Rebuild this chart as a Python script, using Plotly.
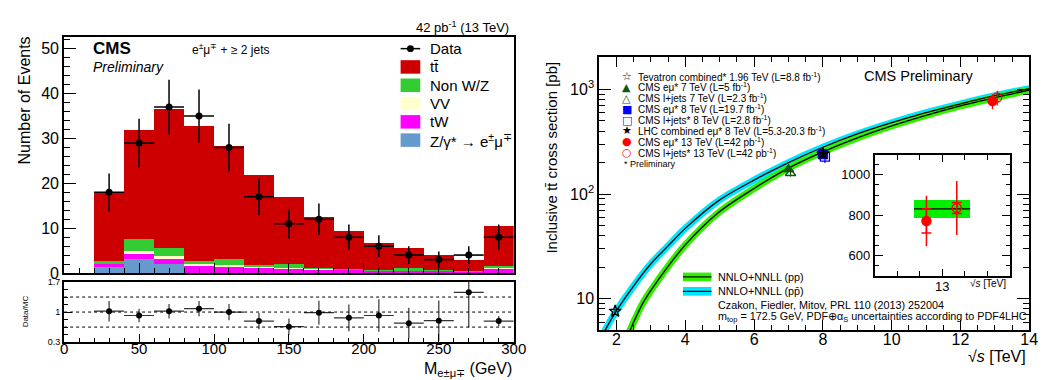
import plotly.graph_objects as go

W, H = 1048, 380
def PX(x): return x / W
def PY(y): return 1 - y / H

FONT = "Liberation Sans"

# ---------------- left panel : e-mu invariant mass ----------------
mass_bins = [30, 50, 70, 90, 110, 130, 150, 170, 190, 210, 230, 250, 270, 290]
bin_width = 20
ttbar   = [15.5, 24.3, 30.9, 30.1, 25.2, 19.9, 15.1, 11.3, 8.5, 6.0, 4.6, 3.4, 2.5, 8.8]
non_wz  = [0.4, 2.7, 1.9, 0.7, 1.3, 0.4, 0.8, 0.15, 0.1, 0.05, 0.4, 0.1, 0.1, 0.5]
diboson = [0.2, 0.4, 0.4, 0.25, 0.25, 0.2, 0.1, 0.08, 0.05, 0.05, 0.1, 0.05, 0.05, 0.1]
tw      = [0.7, 1.2, 1.4, 1.6, 1.5, 1.2, 1.0, 0.85, 0.75, 0.6, 0.55, 0.45, 0.35, 1.0]
dy      = [1.3, 3.2, 1.9, 0.1, 0.05, 0.05, 0.02, 0.02, 0.0, 0.0, 0.0, 0.0, 0.0, 0.0]
data_counts = [18, 29, 37, 35, 28, 17, 11, 12, 8, 6, 4, 3, 4, 8]
data_err    = [4.2, 5.4, 6.1, 5.9, 5.3, 4.1, 3.3, 3.5, 2.8, 2.4, 2.0, 1.8, 2.0, 2.8]
ratio        = [1.02, 0.92, 1.02, 1.08, 1.0, 0.79, 0.66, 0.985, 0.865, 0.92, 0.74, 0.80, 1.46, 0.79]
ratio_err_up = [0.24, 0.16, 0.17, 0.18, 0.19, 0.19, 0.19, 0.28, 0.31, 0.38, 0.36, 0.47, 0.45, 0.12]
ratio_err_dn = [0.24, 0.16, 0.17, 0.18, 0.19, 0.19, 0.19, 0.28, 0.31, 0.38, 0.36, 0.47, 0.82, 0.12]

# ---------------- right panel : cross section vs sqrt(s) ----------------
sqrt_s_pp = [2.3, 2.5, 2.75, 3.0, 3.5, 4.0, 5.0, 6.0, 7.0, 8.0, 9.0, 10.0, 11.0, 12.0, 13.0, 14.0]
xsec_pp   = [4.2, 6.0, 8.9, 12.0, 20.4, 32.7, 68, 113, 177, 253, 344, 448, 565, 695, 832, 985]
sqrt_s_ppbar = [1.5, 1.75, 2.0, 2.5, 3.0, 3.5, 4.0, 5.0, 6.0, 7.0, 8.0, 9.0, 10.0, 11.0, 12.0, 13.0, 14.0]
xsec_ppbar   = [3.9, 5.6, 7.7, 13.3, 21.6, 32, 47, 88, 136, 200, 280, 375, 480, 598, 728, 869, 1016]

meas_labels = ["Tevatron combined* 1.96 TeV (L=8.8 fb<sup>-1</sup>)",
               "CMS eμ* 7 TeV (L=5 fb<sup>-1</sup>)",
               "CMS l+jets 7 TeV (L=2.3 fb<sup>-1</sup>)",
               "CMS eμ* 8 TeV (L=19.7 fb<sup>-1</sup>)",
               "CMS l+jets* 8 TeV (L=2.8 fb<sup>-1</sup>)",
               "LHC combined eμ* 8 TeV (L=5.3-20.3 fb<sup>-1</sup>)",
               "CMS eμ* 13 TeV (L=42 pb<sup>-1</sup>)",
               "CMS l+jets* 13 TeV (L=42 pb<sup>-1</sup>)"]
meas_sqrt_s = [1.96, 7.0, 7.06, 8.0, 8.06, 8.0, 12.93, 13.07]
meas_xsec   = [7.6, 172, 158, 241, 228, 242, 772, 836]
meas_err    = [0.4, 7, 11, 9, 30, 8.5, 125, 133]

# inset (13 TeV zoom)
inset_pos   = [12.86, 13.13]
inset_xsec  = [772, 836]
inset_stat  = [60, 27]
inset_total = [125, 133]
theory_13, theory_13_up, theory_13_dn = 832, 46, 44

# ---------------- styles ----------------
C_TT, C_NWZ, C_VV, C_TW, C_DY = "#cc0000", "#33cc33", "#ffffcc", "#ff00ff", "#6699cc"
C_GREEN, C_CYAN = "#33ee00", "#00e5ff"
meas_style = [("star-open", "black", "☆"), ("triangle-up", "#0b5a0b", "▲"),
              ("triangle-up-open", "#0b5a0b", "△"), ("square", "#0000ff", "■"),
              ("square-open", "#0000ff", "□"), ("star", "black", "★"),
              ("circle", "#ff0000", "●"), ("circle-open", "#ff0000", "○")]

fig = go.Figure()

# stacked histogram
for vals, col, nm in [(dy, C_DY, "DY"), (tw, C_TW, "tW"), (diboson, C_VV, "VV"),
                      (non_wz, C_NWZ, "NonWZ"), (ttbar, C_TT, "tt")]:
    fig.add_trace(go.Bar(x=mass_bins, y=vals, width=bin_width, marker=dict(color=col, line=dict(width=0)),
                         name=nm, xaxis="x", yaxis="y", showlegend=False))
fig.add_trace(go.Scatter(x=mass_bins, y=data_counts, mode="markers", xaxis="x", yaxis="y",
                         marker=dict(color="black", size=7),
                         error_y=dict(type="data", array=data_err, color="black", thickness=1.5, width=0),
                         error_x=dict(type="constant", value=bin_width / 2, color="black", thickness=1.5, width=0),
                         showlegend=False))
# ratio
fig.add_trace(go.Scatter(x=mass_bins, y=ratio, mode="markers", xaxis="x2", yaxis="y2",
                         marker=dict(color="black", size=6),
                         error_y=dict(type="data", symmetric=False, array=ratio_err_up, arrayminus=ratio_err_dn,
                                      color="#333333", thickness=1.2, width=0),
                         error_x=dict(type="constant", value=bin_width / 2, color="#333333", thickness=1.2, width=0),
                         showlegend=False))

# theory curves
for xs, ys, col in [(sqrt_s_ppbar, xsec_ppbar, C_CYAN), (sqrt_s_pp, xsec_pp, C_GREEN)]:
    fig.add_trace(go.Scatter(x=xs, y=ys, mode="lines", line=dict(color=col, width=7, shape="spline", smoothing=0.8),
                             xaxis="x3", yaxis="y3", showlegend=False))
for xs, ys in [(sqrt_s_ppbar, xsec_ppbar), (sqrt_s_pp, xsec_pp)]:
    fig.add_trace(go.Scatter(x=xs, y=ys, mode="lines", line=dict(color="black", width=1.3, shape="spline", smoothing=0.8),
                             xaxis="x3", yaxis="y3", showlegend=False))
# measurements
for i in range(len(meas_xsec)):
    sym, col, _ = meas_style[i]
    fig.add_trace(go.Scatter(x=[meas_sqrt_s[i]], y=[meas_xsec[i]], mode="markers", xaxis="x3", yaxis="y3",
                             marker=dict(symbol=sym, color=col, size=9, line=dict(color=col, width=1.3)),
                             error_y=dict(type="data", array=[meas_err[i]], color=col, thickness=1.2, width=0),
                             showlegend=False))

# inset
fig.add_trace(go.Bar(x=[13.0], y=[theory_13_up + theory_13_dn], base=[theory_13 - theory_13_dn], width=0.5,
                     marker=dict(color="#00ee00", line=dict(width=0)), xaxis="x4", yaxis="y4", showlegend=False))
fig.add_trace(go.Scatter(x=[12.75, 13.25], y=[theory_13, theory_13], mode="lines", line=dict(color="black", width=1.2),
                         xaxis="x4", yaxis="y4", showlegend=False))
for i, sym in enumerate(["circle", "circle-open"]):
    fig.add_trace(go.Scatter(x=[inset_pos[i]], y=[inset_xsec[i]], mode="markers", xaxis="x4", yaxis="y4",
                             marker=dict(symbol=sym, color="#ff0000", size=9, line=dict(color="#ff0000", width=1.5)),
                             error_y=dict(type="data", array=[inset_total[i]], color="#ff0000", thickness=1.5, width=0),
                             showlegend=False))
    fig.add_trace(go.Scatter(x=[inset_pos[i]], y=[inset_xsec[i]], mode="markers", xaxis="x4", yaxis="y4",
                             marker=dict(size=1, color="rgba(0,0,0,0)"),
                             error_y=dict(type="data", array=[inset_stat[i]], color="#ff0000", thickness=1.5, width=5),
                             showlegend=False))

axis_common = dict(showline=True, linecolor="black", linewidth=2, mirror=True, ticks="inside",
                   tickcolor="black", showgrid=False, zeroline=False, tickfont=dict(family=FONT, size=16, color="black"))

def ax(**kw):
    d = dict(axis_common)
    d.update(kw)
    return d

fig.update_layout(
    width=W, height=H, margin=dict(l=0, r=0, t=0, b=0),
    paper_bgcolor="white", plot_bgcolor="white", barmode="stack", bargap=0,
    font=dict(family=FONT, color="black"),
    xaxis=ax(domain=[PX(53), PX(510)], anchor="y", range=[0, 300], dtick=50, ticklen=10, showticklabels=False,
             minor=dict(dtick=10, ticklen=5, ticks="inside", tickcolor="black")),
    yaxis=ax(domain=[PY(270), PY(25)], anchor="x", range=[0, 52.6], dtick=10, ticklen=12,
             minor=dict(dtick=2, ticklen=6, ticks="inside", tickcolor="black")),
    xaxis2=ax(domain=[PX(53), PX(510)], anchor="y2", range=[0, 300], dtick=50, ticklen=8, ticklabelstandoff=-8,
              tickfont=dict(family=FONT, size=15, color="black"),
              minor=dict(dtick=10, ticklen=4, ticks="inside", tickcolor="black")),
    yaxis2=ax(domain=[PY(341.7), PY(279.3)], anchor="x2", range=[0.3, 1.7], tickvals=[0.3, 1, 1.7],
              ticktext=["0.3", "1", "1.7"], ticklen=8, tickfont=dict(family=FONT, size=9, color="black"),
              minor=dict(tick0=0.3, dtick=0.175, ticklen=4, ticks="inside", tickcolor="black")),
    xaxis3=ax(domain=[PX(597), PX(1034)], anchor="y3", range=[1.5, 14], tick0=0, dtick=2, ticklen=10, mirror="ticks",
              ticklabelstandoff=-6,
              minor=dict(dtick=0.5, ticklen=5, ticks="inside", tickcolor="black")),
    yaxis3=ax(domain=[PY(329), PY(46)], anchor="x3", type="log", range=[0.703, 3.306], tickvals=[10, 100, 1000],
              ticktext=["10", "10<sup>2</sup>", "10<sup>3</sup>"], ticklen=12, mirror="ticks",
              minor=dict(tickvals=[m * 10 ** k for k in range(0, 4) for m in range(2, 10)], ticklen=6,
                         ticks="inside", tickcolor="black")),
    xaxis4=ax(domain=[PX(877), PX(1014)], anchor="y4", range=[12.4, 13.6], tickvals=[13], ticklen=7, mirror="ticks",
              ticklabelstandoff=-3, tickfont=dict(family=FONT, size=13, color="black"),
              minor=dict(tickvals=[12.6, 12.8, 13.2, 13.4], ticklen=5, ticks="inside", tickcolor="black")),
    yaxis4=ax(domain=[PY(273), PY(147)], anchor="x4", range=[500, 1100], tickvals=[600, 800, 1000], ticklen=8,
              mirror="ticks", tickfont=dict(family=FONT, size=13, color="black"),
              minor=dict(dtick=50, ticklen=4, ticks="inside", tickcolor="black")),
)

ann = []
shapes = []
def text(x, y, s, size, xanchor="left", angle=0, family=FONT, color="black"):
    ann.append(dict(x=PX(x), y=PY(y), xref="paper", yref="paper", text=s, showarrow=False, xanchor=xanchor,
                    yanchor="middle", textangle=angle, font=dict(family=family, size=size, color=color)))

# left panel texts
text(80, 37, "<b>CMS</b>", 17)
text(80, 56, "<i>Preliminary</i>", 14)
text(181, 37, "e<sup>±</sup>μ<sup>∓</sup> + ≥ 2 jets", 12)
text(507, 15, "42 pb<sup>-1</sup> (13 TeV)", 13, xanchor="right")
text(13, 91, "Number of Events", 16, xanchor="center", angle=-90)
text(14, 310, "Data/MC", 8, xanchor="center", angle=-90)
text(510, 370, "M<sub>e±μ∓</sub> (GeV)", 16, xanchor="right")

# left legend
leg_y = [37, 56, 75, 94, 113, 132]
leg_items = [("Data", None), ("tt\u0304", C_TT), ("Non W/Z", C_NWZ), ("VV", C_VV), ("tW", C_TW),
             ("Z/γ* → e<sup>±</sup>μ<sup>∓</sup>", C_DY)]
for (lab, col), yc in zip(leg_items, leg_y):
    if col is None:
        shapes.append(dict(type="line", xref="paper", yref="paper", x0=PX(395), x1=PX(415), y0=PY(yc), y1=PY(yc),
                           line=dict(color="black", width=1.5)))
        shapes.append(dict(type="circle", xref="paper", yref="paper", x0=PX(401.5), x1=PX(408.5), y0=PY(yc + 3.5),
                           y1=PY(yc - 3.5), fillcolor="black", line=dict(width=0)))
    else:
        shapes.append(dict(type="rect", xref="paper", yref="paper", x0=PX(395), x1=PX(415), y0=PY(yc + 7),
                           y1=PY(yc - 7), fillcolor=col, line=dict(width=0)))
    text(423, yc, lab, 15)

# ratio reference lines
for yv in [0.65, 1.0, 1.35]:
    shapes.append(dict(type="line", xref="x2", yref="y2", x0=0, x1=300, y0=yv, y1=yv,
                       line=dict(color="black", width=1, dash="dot")))

# right panel legend
for i, lab in enumerate(meas_labels):
    yc = 66 + i * 11.3
    sym, col, glyph = meas_style[i]
    text(625, yc, glyph, 11, xanchor="center", family="DejaVu Sans", color=col)
    text(634, yc, lab, 10)
text(620, 156.5, "* Preliminary", 9)
text(922, 65, "CMS Preliminary", 14.5, xanchor="center")
text(548, 150, "Inclusive tt\u0304 cross section [pb]", 15, xanchor="center", angle=-90)
text(1033, 357, "√<i>s</i> [TeV]", 16, xanchor="right")
text(1012, 281, "√<i>s</i> [TeV]", 10, xanchor="right")

for yc, col, lab in [(274, C_GREEN, "NNLO+NNLL (pp)"), (289, C_CYAN, "NNLO+NNLL (pp\u0304)")]:
    shapes.append(dict(type="rect", xref="paper", yref="paper", x0=PX(682), x1=PX(711), y0=PY(yc + 4.5),
                       y1=PY(yc - 4.5), fillcolor=col, line=dict(width=0)))
    shapes.append(dict(type="line", xref="paper", yref="paper", x0=PX(682), x1=PX(711), y0=PY(yc), y1=PY(yc),
                       line=dict(color="black", width=1.2)))
    text(716, yc, lab, 10.8)
text(716, 303, "Czakon, Fiedler, Mitov, PRL 110 (2013) 252004", 10.8)
text(716, 316, "m<sub>top</sub> = 172.5 GeV, PDF⊕α<sub>S</sub> uncertainties according to PDF4LHC", 10.8)

fig.update_layout(annotations=ann, shapes=shapes)
fig.write_html("out.html")
